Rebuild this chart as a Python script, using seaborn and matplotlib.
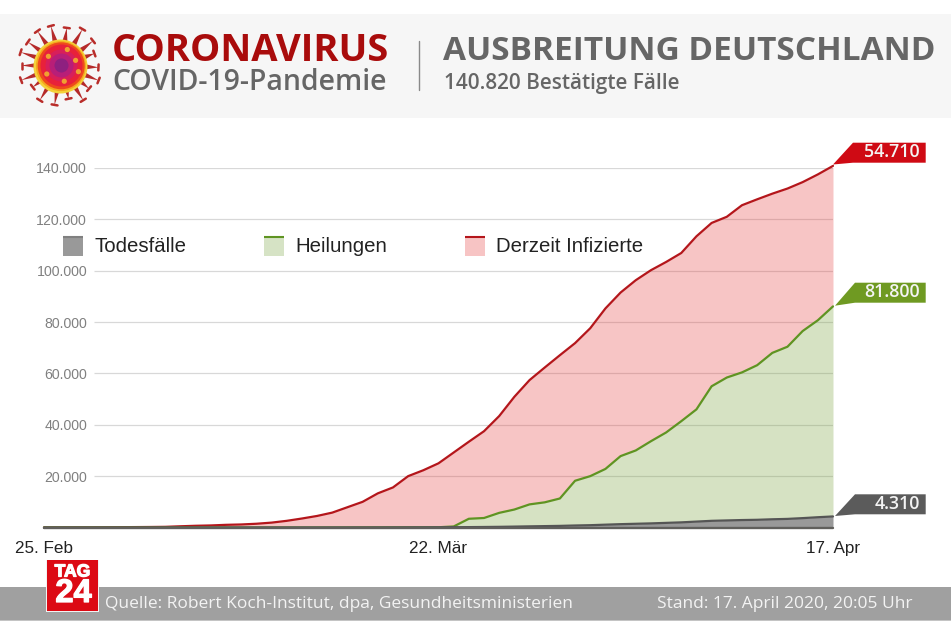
import numpy as np
import pandas as pd
import matplotlib
matplotlib.use("Agg")
import matplotlib.pyplot as plt
import matplotlib.patheffects as pe
from matplotlib.patches import Polygon, Rectangle, Circle
import seaborn as sns

# ---- data ----
start_date = "2020-02-25"
end_date = "2020-04-17"
total = [17, 27, 46, 48, 79, 130, 160, 200, 260, 480, 670, 800, 1040, 1180, 1460, 1900, 2600,
         3500, 4500, 5800, 7900, 10000, 13300, 15600, 20000, 22300, 25000, 29200, 33400, 37500,
         43400, 50900, 57400, 62300, 67100, 71800, 77600, 85300, 91500, 96300, 100200, 103400,
         106900, 113400, 118600, 121000, 125500, 127800, 130000, 132000, 134500, 137500, 140820]
recovered_top = [20, 20, 20, 20, 20, 20, 20, 20, 20, 20, 20, 20, 20, 20, 20, 20, 20, 20, 20, 25,
                 30, 40, 50, 60, 70, 80, 100, 400, 3400, 3700, 5700, 7000, 9000, 9800, 11300,
                 18200, 20000, 22800, 27800, 30000, 33600, 37000, 41400, 46000, 55000, 58400,
                 60400, 63200, 68000, 70400, 76500, 80700, 86110]
deaths = [0, 0, 0, 0, 0, 0, 0, 0, 0, 0, 0, 0, 0, 0, 0, 3, 5, 7, 10, 15, 20, 30, 35, 45, 60, 70,
          90, 120, 150, 200, 260, 350, 450, 540, 630, 780, 900, 1100, 1300, 1450, 1600, 1800,
          2000, 2300, 2600, 2750, 2900, 3000, 3200, 3350, 3650, 4000, 4310]
y_ticks = [20000, 40000, 60000, 80000, 100000, 120000, 140000]
y_tick_labels = ["20.000", "40.000", "60.000", "80.000", "100.000", "120.000", "140.000"]
x_tick_dates = ["2020-02-25", "2020-03-22", "2020-04-17"]
x_tick_labels = ["25. Feb", "22. Mär", "17. Apr"]
legend_names = ["Todesfälle", "Heilungen", "Derzeit Infizierte"]
end_labels = ["54.710", "81.800", "4.310"]

W, H = 951, 634
RED_LINE, GREEN_LINE, GRAY_LINE = "#b4161b", "#5f9422", "#555555"
RED_FILL, GREEN_FILL = (0.90, 0.22, 0.22, 0.29), (0.47, 0.63, 0.23, 0.30)
UI = "Open Sans"
ARIAL = "Liberation Sans"

sns.set_theme(style="white")
plt.rcParams["font.family"] = [ARIAL, "DejaVu Sans"]

df = pd.DataFrame({"date": pd.date_range(start_date, end_date), "total": total,
                   "recovered": recovered_top, "deaths": deaths})

fig = plt.figure(figsize=(W / 100, H / 100), dpi=100, facecolor="white")
x0, x1, y0, y1 = 44, 833, 527.5, 168
ax = fig.add_axes([x0 / W, (H - y0) / H, (x1 - x0) / W, (y0 - y1) / H])
ax.set_xlim(df["date"].iloc[0], df["date"].iloc[-1])
ax.set_ylim(0, 140000)

ax.hlines(y_ticks, pd.Timestamp("2020-02-28") + pd.Timedelta(hours=7), df["date"].iloc[-1],
          color="#d8d8d8", lw=0.9, zorder=1)

ax.fill_between(df["date"], df["recovered"], df["total"], color=RED_FILL, lw=0, zorder=2)
ax.fill_between(df["date"], df["deaths"], df["recovered"], color=GREEN_FILL, lw=0, zorder=2)
ax.fill_between(df["date"], 0, df["deaths"], color="#999999", lw=0, zorder=2)

for col, colr in [("total", RED_LINE), ("recovered", GREEN_LINE), ("deaths", GRAY_LINE)]:
    sns.lineplot(data=df, x="date", y=col, color=colr, lw=1.6, ax=ax, zorder=3,
                 clip_on=False, legend=False)
ax.axhline(0, color="#605f5c", lw=1.7, zorder=4, clip_on=False)

ax.set_xlabel("")
ax.set_ylabel("")
ax.set_yticks(y_ticks, y_tick_labels)
ax.set_xticks(pd.to_datetime(x_tick_dates), x_tick_labels)
ax.tick_params(axis="y", length=0, pad=-31, labelsize=10.2, labelcolor="#808080")
ax.tick_params(axis="x", length=0, pad=9.5, labelsize=12.3, labelcolor="#222222")
for lab in ax.get_yticklabels():
    lab.set_horizontalalignment("right")
sns.despine(ax=ax, left=True, bottom=True, top=True, right=True)
ax.patch.set_alpha(0)

# ---- decoration layers in pixel coordinates ----
d = fig.add_axes([0, 0, 1, 1], zorder=-1)
d.set_xlim(0, W)
d.set_ylim(H, 0)
d.axis("off")
o = fig.add_axes([0, 0, 1, 1], zorder=5)
o.set_xlim(0, W)
o.set_ylim(H, 0)
o.axis("off")
o.patch.set_alpha(0)

d.add_patch(Rectangle((0, 14), W, 103.5, color="#f6f6f6", lw=0))
d.add_patch(Rectangle((0, 586.5), W, 33.5, color="#a0a0a0", lw=0))
d.add_patch(Rectangle((0, 619.5), W, 1, color="#c4c4c4", lw=0))

# header
o.text(112, 51, "CORONAVIRUS", family=UI, weight="bold", size=27.45, color="#a90c0c",
       va="center", ha="left")
o.text(112, 82, "COVID-19-Pandemie", family=UI, weight="semibold", size=20.45, color="#666666",
       va="center", ha="left")
o.plot([418.5, 418.5], [41, 90], color="#8a8a8a", lw=1.0)
o.text(443, 52, "AUSBREITUNG DEUTSCHLAND", family=UI, weight="bold", size=24.0,
       color="#666666", va="center", ha="left")
o.text(444, 84, "140.820 Bestätigte Fälle", family=UI, weight="semibold", size=14.95,
       color="#666666", va="center", ha="left")

# virus icon
cx, cy = 61.5, 65.5
spike_angles = [3, 22, 40, 58, 78, 100, 122, 143, 160, 180, 198, 215, 235, 255, 278, 300, 322, 340]
spike_lens = [37, 40, 36, 41, 34, 40, 41, 36, 43, 40, 43, 41, 42, 41, 38, 42, 40, 35]
for ang, ln in zip(spike_angles, spike_lens):
    a = np.deg2rad(ang)
    ux, uy, nx, ny = np.cos(a), np.sin(a), -np.sin(a), np.cos(a)
    o.add_patch(Polygon([(cx + 22 * ux + 3 * nx, cy + 22 * uy + 3 * ny),
                         (cx + 22 * ux - 3 * nx, cy + 22 * uy - 3 * ny),
                         (cx + ln * ux, cy + ln * uy)], closed=True, color="#b52a2a", lw=0, zorder=1))
    o.plot([cx + ln * ux + 3 * nx, cx + ln * ux - 3 * nx], [cy + ln * uy + 3 * ny, cy + ln * uy - 3 * ny],
           color="#b92d2a", lw=1.8, solid_capstyle="round", zorder=1)
for r, c, off in [(27, "#f4d23a", 1.0), (25, "#f5a81e", 0.6), (23.5, "#ee4a1c", 0.3), (21, "#e8213a", 0),
                  (16, "#d81f5a", 0), (12, "#b81e78", 0), (7, "#8e2080", 0)]:
    o.add_patch(Circle((cx - off, cy + off), r, color=c, lw=0, zorder=2))
for ang, rr in [(20, 18), (80, 16), (150, 17), (215, 16), (290, 17), (340, 15)]:
    a = np.deg2rad(ang)
    o.add_patch(Circle((cx + rr * np.cos(a), cy + rr * np.sin(a)), 2.6, color="#f0a030", lw=0, zorder=3))

# legend
swatches = [(63, "#999999", "#808080", 95), (264, "#d6e3c5", GREEN_LINE, 296), (465, "#f7c4c4", RED_LINE, 497)]
for (sx, fc, lc, tx), name in zip(swatches, legend_names):
    o.add_patch(Rectangle((sx, 236.5), 20, 19, color=fc, lw=0))
    o.plot([sx, sx + 20], [237, 237], color=lc, lw=1.5, solid_capstyle="butt")
    o.text(tx - 0.5, 246.5, name, family=ARIAL, size=14.7, color="#222222", va="center", ha="left")

# end callouts
calls = [(164.5, 142.7, 833, 853, "#cf0a14", end_labels[0]),
         (305.7, 282.7, 835, 855, "#6f9a22", end_labels[1]),
         (516, 494.3, 835, 855, "#5b5b5b", end_labels[2])]
for tip_y, top, tip_x, sx, col, txt in calls:
    bot = top + 20
    o.add_patch(Polygon([(tip_x, tip_y), (sx, top), (925.7, top), (925.7, bot), (sx, bot)],
                        closed=True, color=col, lw=0))
    o.text(920, top + 9.5, txt, family=UI, weight="semibold", size=12.8, color="#f4f4f4",
           va="center", ha="right")

# footer
o.add_patch(Rectangle((46, 559.5), 53, 52, color="#f2f2f2", lw=0))
o.add_patch(Rectangle((47, 560), 51, 50.5, color="#dc0a14", lw=0))
heavy = [pe.withStroke(linewidth=0.9, foreground="white")]
o.text(72.5, 572, "TAG", family=ARIAL, weight="bold", size=12.6, color="white", va="center", ha="center",
       path_effects=heavy)
o.text(73.5, 593.5, "24", family=ARIAL, weight="bold", size=23.5, color="white", va="center", ha="center",
       path_effects=heavy)
o.text(105, 604, "Quelle: Robert Koch-Institut, dpa, Gesundheitsministerien", family=UI, size=12.5,
       color="#f3f3f3", va="center", ha="left")
o.text(912.5, 604, "Stand: 17. April 2020, 20:05 Uhr", family=UI, size=12.5,
       color="#f3f3f3", va="center", ha="right")

fig.savefig("out.png", dpi=100, facecolor="white")
